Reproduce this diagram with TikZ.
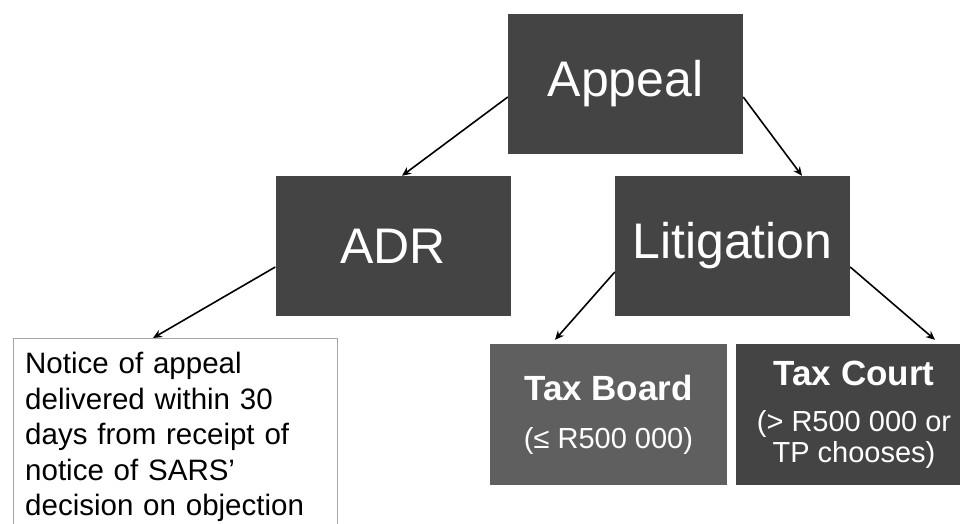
\documentclass[tikz,border=0pt]{standalone}
\usepackage{fontspec}
\setmainfont{Liberation Sans}
\usetikzlibrary{arrows.meta,calc}
\definecolor{boxdark}{HTML}{444444}
\definecolor{boxmid}{HTML}{5F5F5F}
\definecolor{noteline}{HTML}{A6A6A6}
\begin{document}
\begin{tikzpicture}[x=1pt,y=-1pt,
  darkbox/.style={fill=boxdark, text=white, minimum width=235pt, minimum height=140pt, inner sep=0pt, font=\fontsize{50}{56}\selectfont},
  courtbox/.style={text=white, minimum width=237pt, minimum height=141pt, inner sep=0pt, align=center},
  notebox/.style={draw=noteline, line width=1.3pt, fill=white, minimum width=324pt, minimum height=210pt, inner sep=0pt, anchor=north west},
  notetext/.style={anchor=north west, inner sep=0pt, align=left, text width=305pt, font=\fontsize{29.5}{35.5}\selectfont},
  arr/.style={-{Stealth[length=9pt,width=8pt]}, line width=1.6pt, black}]
\useasboundingbox (0,0) rectangle (960,523);
\node[darkbox] (appeal) at (625.5,84) {Appeal};
\node[darkbox] (adr) at (393,246) {ADR};
\node[darkbox] (lit) at (732.5,246) {Litigation};
\node[courtbox, fill=boxmid, font=\fontsize{29}{48}\selectfont] (board) at (608.5,414.5)
  {{\bfseries\fontsize{35}{48}\selectfont Tax Board}\\(≤ R500 000)};
\node[courtbox, fill=boxdark, font=\fontsize{29}{31}\selectfont] (court) at (854,414.5)
  {{\bfseries\fontsize{35}{31}\selectfont Tax Court}\\[15pt](> R500 000 or\\TP chooses)};
\node[notebox] (notebox) at (13,338) {};
\node[notetext] (notes) at ($(notebox.north west)+(12,14)$)
  {Notice of appeal\\delivered within 30\\days from receipt of\\notice of SARS'\\decision on objection};
\draw[arr] ($(appeal.west)+(0,13)$) -- ($(adr.north)+(9,0)$);
\draw[arr] ($(appeal.east)+(0,13)$) -- ($(lit.north)+(69.5,0)$);
\draw[arr] ($(adr.west)+(0,21)$) -- ($(notebox.north west)+(140,0)$);
\draw[arr] ($(lit.west)+(0,26)$) -- ($(board.north)+(-53.5,-4)$);
\draw[arr] ($(lit.east)+(0,21)$) -- ($(court.north)+(81,-4)$);
\end{tikzpicture}
\end{document}
